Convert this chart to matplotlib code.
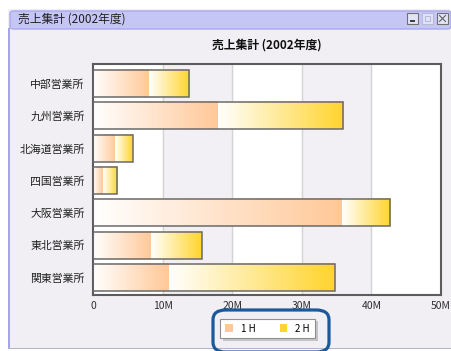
import matplotlib
matplotlib.use("Agg")
import matplotlib.pyplot as plt
import numpy as np
from matplotlib.colors import LinearSegmentedColormap
from matplotlib.patches import Rectangle, FancyBboxPatch

plt.rcParams['font.family'] = ['Noto Sans CJK JP', 'DejaVu Sans']

# data (values in M yen)
offices = ['中部営業所', '九州営業所', '北海道営業所', '四国営業所',
           '大阪営業所', '東北営業所', '関東営業所']
first_half = [8.0, 17.9, 3.2, 1.4, 35.8, 8.4, 10.9]
second_half = [5.8, 18.0, 2.5, 2.1, 6.9, 7.3, 23.8]
series = ['1 H', '2 H']
colors = ['#ffc898', '#ffd42c']
xticks = [0, 10, 20, 30, 40, 50]
xticklabels = ['0', '10M', '20M', '30M', '40M', '50M']
title = '売上集計 (2002年度)'

W, H = 451, 351


def px(x, y, w, h):
    """pixel box (top-left origin) -> figure fraction rect"""
    return (x / W, 1 - (y + h) / H, w / W, h / H)


def fig_rect(x, y, w, h, **kw):
    l, b, fw, fh = px(x, y, w, h)
    return fig.add_artist(Rectangle((l, b), fw, fh,
                                    transform=fig.transFigure, **kw))


fig = plt.figure(figsize=(W / 100, H / 100), dpi=100)
fig.patch.set_facecolor('white')

# window frame
fig_rect(8, 9, 443, 340, facecolor='#f1eff3', edgecolor='none', zorder=-3)
l, b, fw, fh = px(10, 11, 441, 18)
fig.add_artist(FancyBboxPatch((l, b), fw, fh,
                              boxstyle='round,pad=0,rounding_size=0.008',
                              transform=fig.transFigure, facecolor='#c6c6f6',
                              edgecolor='#a8a8ec', linewidth=1, zorder=-2))
fig_rect(8, 28, 2, 321, facecolor='#a4a4ea', edgecolor='none', zorder=-2)
fig_rect(8, 348, 443, 1, facecolor='#b4b4c4', edgecolor='none', zorder=-2)
fig.text(18 / W, 1 - 19 / H, title, fontsize=8.5, va='center', ha='left',
         color='#202020')

# window buttons
for bx, ec in [(407, '#707070'), (422, '#b8b8d8'), (437, '#707070')]:
    fig_rect(bx, 13, 11, 11, facecolor='#e4e4f8', edgecolor=ec,
             linewidth=0.8, zorder=-1)
fig_rect(410, 20, 5, 2, facecolor='#404040', edgecolor='none', zorder=0)
fig_rect(425, 16, 5, 5, facecolor='none', edgecolor='#b8b8d8',
         linewidth=0.8, zorder=0)
for ya, yb in [(15.5, 21.5), (21.5, 15.5)]:
    fig.add_artist(plt.Line2D([439.5 / W, 445.5 / W], [1 - ya / H, 1 - yb / H],
                              transform=fig.transFigure, color='#606060',
                              lw=0.8, zorder=1))

# chart
ax = fig.add_axes(px(93, 64, 348, 231))
ax.set_zorder(2)
ax.set_facecolor('white')

for i in range(1, 5, 2):
    ax.axvspan(xticks[i], xticks[i + 1], color='#f2f0f4', zorder=0)
for t in xticks[1:-1]:
    ax.axvline(t, color='#d4d4d4', lw=1, zorder=0.5)

bar_h = 0.835
grad = np.linspace(0, 1, 256).reshape(1, -1)
cmaps = [LinearSegmentedColormap.from_list('g%d' % k, ['white', c])
         for k, c in enumerate(colors)]
y = np.arange(len(offices))
for i in range(len(offices)):
    left = 0
    for vals, cm in zip([first_half, second_half], cmaps):
        v = vals[i]
        ax.imshow(grad, cmap=cm, aspect='auto', interpolation='bilinear',
                  extent=[left, left + v, y[i] + bar_h / 2, y[i] - bar_h / 2],
                  zorder=2)
        left += v
totals = [a + b for a, b in zip(first_half, second_half)]
ax.barh(y, totals, height=bar_h, facecolor='none', edgecolor='#6a6a6a',
        linewidth=1.1, zorder=3)
ax.set_xlim(0, 50)
ax.set_ylim(6.54, -0.6)

ax.set_yticks(y)
ax.set_yticklabels(offices, fontsize=7.8, color='#202020')
ax.set_xticks(xticks)
ax.set_xticklabels(xticklabels, fontsize=7.5, color='#303030')
ax.tick_params(length=0, pad=4)
ax.tick_params(axis='y', pad=6)
for s in ax.spines.values():
    s.set_color('#5c5c5c')
    s.set_linewidth(1.5)
ax.set_title(title, fontsize=8.5, fontweight='bold', pad=11, color='#101010')

# legend
handles = [Rectangle((0, 0), 1, 1, facecolor=c, edgecolor='none') for c in colors]
leg = fig.legend(handles, series, loc='center', ncol=2,
                 bbox_to_anchor=(267.5 / W, 1 - 328.5 / H), fontsize=7,
                 frameon=True, fancybox=False,
                 shadow={'facecolor': '#c4c4c4', 'alpha': 1, 'edgecolor': 'none'},
                 handlelength=0.8, handleheight=0.8, columnspacing=2.5,
                 borderpad=0.5, handletextpad=0.8)
leg.get_frame().set_edgecolor('#909090')
leg.get_frame().set_linewidth(0.8)

# highlight around legend
l, b, fw, fh = px(213, 310, 116, 42)
fig.add_artist(FancyBboxPatch((l, b), fw, fh,
                              boxstyle='round,pad=0,rounding_size=0.028',
                              transform=fig.transFigure, facecolor='none',
                              edgecolor='#1a5a9c', linewidth=2.3, zorder=5))

fig.savefig('out.png', dpi=100)
